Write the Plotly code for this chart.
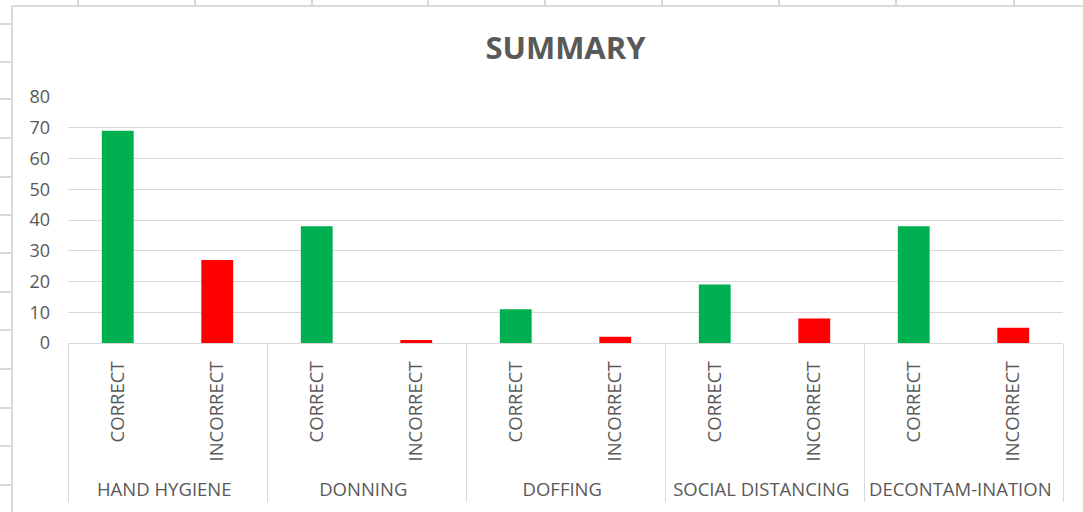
import plotly.graph_objects as go

groups = ["HAND HYGIENE", "DONNING", "DOFFING", "SOCIAL DISTANCING", "DECONTAM-INATION"]
outcomes = ["CORRECT", "INCORRECT"]
correct_vals = [69, 38, 11, 19, 38]
incorrect_vals = [27, 1, 2, 8, 5]
bar_colors = {"CORRECT": "#00B050", "INCORRECT": "#FF0000"}
y_ticks = [0, 10, 20, 30, 40, 50, 60, 70, 80]

PAD = "\u00a0\u00a0"  # invisible padding below the rotated labels
xg, xs, yv, cols = [], [], [], []
for g, c, i in zip(groups, correct_vals, incorrect_vals):
    for o, v in zip(outcomes, [c, i]):
        xg.append(g); xs.append(PAD + o); yv.append(v); cols.append(bar_colors[o])

W, H = 1083, 512
L, R, T, B = 68, 20, 97, 169
pw, ph = W - L - R, H - T - B

def px(x):
    return (x - L) / pw

def py(y):
    return (H - B - y) / ph

fig = go.Figure()
fig.add_trace(go.Bar(x=[xg, xs], y=yv, marker=dict(color=cols, line=dict(width=0)),
                     width=0.32, hoverinfo="x+y"))

grid = "#d9d9d9"
shapes = []
# spreadsheet cell lines outside the chart
for yy in [24, 62, 99, 138, 177, 215, 253, 292, 330, 369, 408, 446, 485]:
    shapes.append(dict(type="line", xref="paper", yref="paper", x0=px(0), x1=px(12),
                       y0=py(yy), y1=py(yy), line=dict(color=grid, width=2)))
for xx in [78, 195, 312, 428, 545, 662, 779, 896, 1014]:
    shapes.append(dict(type="line", xref="paper", yref="paper", x0=px(xx), x1=px(xx),
                       y0=py(0), y1=py(6), line=dict(color=grid, width=2)))
# chart border
shapes.append(dict(type="line", xref="paper", yref="paper", x0=px(12), x1=px(12),
                   y0=py(6), y1=py(512), line=dict(color=grid, width=2)))
shapes.append(dict(type="line", xref="paper", yref="paper", x0=px(12), x1=px(1083),
                   y0=py(6), y1=py(6), line=dict(color=grid, width=2)))

fig.update_layout(
    width=W, height=H,
    margin=dict(l=L, r=R, t=T, b=B, autoexpand=False),
    paper_bgcolor="white", plot_bgcolor="white",
    showlegend=False,
    font=dict(family="Open Sans", color="#595959", size=18),
    title=dict(text="<b>SUMMARY</b>", x=0.5, xref="paper", xanchor="center",
               y=1 - 48 / H, yanchor="middle", yref="container",
               font=dict(size=31, color="#595959", family="Open Sans")),
    shapes=shapes,
    bargap=0.68,
)
fig.update_yaxes(range=[0, 80], tickvals=y_ticks, showgrid=True, gridcolor=grid, gridwidth=1,
                 zeroline=False, showline=False, ticks="", ticklabelstandoff=17,
                 tickfont=dict(size=18, color="#595959"))
fig.update_xaxes(type="multicategory", showline=True, linecolor=grid, linewidth=1,
                 showdividers=True, dividercolor=grid, dividerwidth=1,
                 ticklabelstandoff=10,
                 tickangle=-90, ticks="", tickfont=dict(size=18.5, color="#595959"))

fig.write_html("out.html", config={"displayModeBar": False},
               post_script="document.body.style.margin='0px';")
